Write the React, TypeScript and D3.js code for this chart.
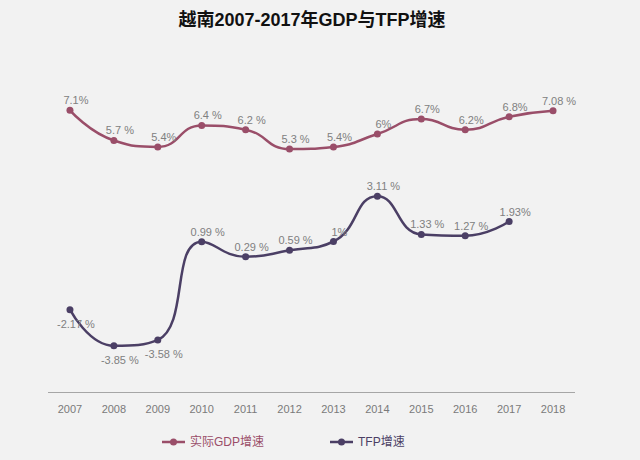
import React from "react";
import * as d3 from "d3";

const years = ["2007", "2008", "2009", "2010", "2011", "2012", "2013", "2014", "2015", "2016", "2017", "2018"];
const gdpValues = [7.1, 5.7, 5.4, 6.4, 6.2, 5.3, 5.4, 6, 6.7, 6.2, 6.8, 7.08];
const gdpLabels = ["7.1%", "5.7 %", "5.4%", "6.4 %", "6.2 %", "5.3 %", "5.4%", "6%", "6.7%", "6.2%", "6.8%", "7.08 %"];
const tfpYears = ["2007", "2008", "2009", "2010", "2011", "2012", "2013", "2014", "2015", "2016", "2017"];
const tfpValues = [-2.17, -3.85, -3.58, 0.99, 0.29, 0.59, 1, 3.11, 1.33, 1.27, 1.93];
const tfpLabels = ["-2.17 %", "-3.85 %", "-3.58 %", "0.99 %", "0.29 %", "0.59 %", "1%", "3.11 %", "1.33 %", "1.27 %", "1.93%"];
const seriesNames = ["实际GDP增速", "TFP增速"];
const title = "越南2007-2017年GDP与TFP增速";

const W = 640;
const H = 460;
const GDP_COLOR = "#9a4e69";
const TFP_COLOR = "#4b3f65";
const LABEL_COLOR = "#808080";
const FONT = "'Liberation Sans', Arial, 'Noto Sans CJK SC', sans-serif";

// ECharts-style smooth path with extreme clamping
function smoothPath(pts: [number, number][], smooth = 0.5): string {
  const p = d3.path();
  let prevX = 0, prevY = 0, cpx0 = 0, cpy0 = 0, cpx1 = 0, cpy1 = 0;
  for (let i = 0; i < pts.length; i++) {
    const [x, y] = pts[i];
    if (i === 0) {
      p.moveTo(x, y);
      cpx0 = x; cpy0 = y;
    } else {
      let nextCpx0 = x, nextCpy0 = y;
      if (i === pts.length - 1) {
        cpx1 = x; cpy1 = y;
      } else {
        const [nextX, nextY] = pts[i + 1];
        let vx = nextX - prevX;
        let vy = nextY - prevY;
        const dx0 = x - prevX, dx1 = nextX - x, dy0 = y - prevY, dy1 = nextY - y;
        const lenPrev = Math.sqrt(dx0 * dx0 + dy0 * dy0);
        const lenNext = Math.sqrt(dx1 * dx1 + dy1 * dy1);
        const ratio = lenNext / (lenNext + lenPrev);
        nextCpx0 = x + vx * smooth * ratio;
        nextCpy0 = y + vy * smooth * ratio;
        nextCpx0 = Math.min(nextCpx0, Math.max(nextX, x));
        nextCpy0 = Math.min(nextCpy0, Math.max(nextY, y));
        nextCpx0 = Math.max(nextCpx0, Math.min(nextX, x));
        nextCpy0 = Math.max(nextCpy0, Math.min(nextY, y));
        vx = nextCpx0 - x;
        vy = nextCpy0 - y;
        cpx1 = x - (vx * lenPrev) / lenNext;
        cpy1 = y - (vy * lenPrev) / lenNext;
        cpx1 = Math.min(cpx1, Math.max(prevX, x));
        cpy1 = Math.min(cpy1, Math.max(prevY, y));
        cpx1 = Math.max(cpx1, Math.min(prevX, x));
        cpy1 = Math.max(cpy1, Math.min(prevY, y));
        vx = x - cpx1;
        vy = y - cpy1;
        nextCpx0 = x + (vx * lenNext) / lenPrev;
        nextCpy0 = y + (vy * lenNext) / lenPrev;
      }
      p.bezierCurveTo(cpx0, cpy0, cpx1, cpy1, x, y);
      cpx0 = nextCpx0; cpy0 = nextCpy0;
    }
    prevX = x; prevY = y;
  }
  return p.toString();
}

export default function App() {
  const x = d3.scalePoint<string>().domain(years).range([48, 575]).padding(0.5);
  const y = d3.scaleLinear().domain([-6, 8]).range([392, 91]);

  const gdpPts: [number, number][] = gdpValues.map((v, i) => [x(years[i])!, y(v)]);
  const tfpPts: [number, number][] = tfpValues.map((v, i) => [x(tfpYears[i])!, y(v)]);

  const belowTfp = (i: number) => i < 3;

  return (
    <svg width={W} height={H} style={{ position: "absolute", left: 0, top: 0, display: "block" }} fontFamily={FONT}>
      <rect x={0} y={0} width={W} height={H} fill="#f2f2f2" />
      <text x={312} y={20} textAnchor="middle" dominantBaseline="central" fontSize={18} fontWeight="bold" fill="#111">
        {title}
      </text>

      {/* x axis */}
      <line x1={48} x2={575} y1={392.5} y2={392.5} stroke="#a6a6a6" strokeWidth={1} />
      {years.map((yr) => (
        <text key={yr} x={x(yr)} y={409} textAnchor="middle" dominantBaseline="central" fontSize={11} fill="#7a7a7a">
          {yr}
        </text>
      ))}

      {/* GDP series */}
      <path d={smoothPath(gdpPts)} fill="none" stroke={GDP_COLOR} strokeWidth={2.5} />
      {gdpPts.map(([px, py], i) => (
        <circle key={"g" + i} cx={px} cy={py} r={3.5} fill={GDP_COLOR} />
      ))}
      {gdpPts.map(([px, py], i) => (
        <text key={"gl" + i} x={px + 6} y={py - 10} textAnchor="middle" dominantBaseline="central" fontSize={11} fill={LABEL_COLOR}>
          {gdpLabels[i]}
        </text>
      ))}

      {/* TFP series */}
      <path d={smoothPath(tfpPts)} fill="none" stroke={TFP_COLOR} strokeWidth={2.5} />
      {tfpPts.map(([px, py], i) => (
        <circle key={"t" + i} cx={px} cy={py} r={3.5} fill={TFP_COLOR} />
      ))}
      {tfpPts.map(([px, py], i) => (
        <text
          key={"tl" + i}
          x={px + 6}
          y={belowTfp(i) ? py + 14 : py - 10}
          textAnchor="middle"
          dominantBaseline="central"
          fontSize={11}
          fill={LABEL_COLOR}
        >
          {tfpLabels[i]}
        </text>
      ))}

      {/* legend */}
      <g>
        <line x1={162} x2={185} y1={442} y2={442} stroke={GDP_COLOR} strokeWidth={2.5} />
        <circle cx={173.5} cy={442} r={3.5} fill={GDP_COLOR} />
        <text x={190} y={442} dominantBaseline="central" fontSize={12} fill={GDP_COLOR}>
          {seriesNames[0]}
        </text>
        <line x1={330} x2={353} y1={442} y2={442} stroke={TFP_COLOR} strokeWidth={2.5} />
        <circle cx={341.5} cy={442} r={3.5} fill={TFP_COLOR} />
        <text x={358} y={442} dominantBaseline="central" fontSize={12} fill={TFP_COLOR}>
          {seriesNames[1]}
        </text>
      </g>
    </svg>
  );
}
